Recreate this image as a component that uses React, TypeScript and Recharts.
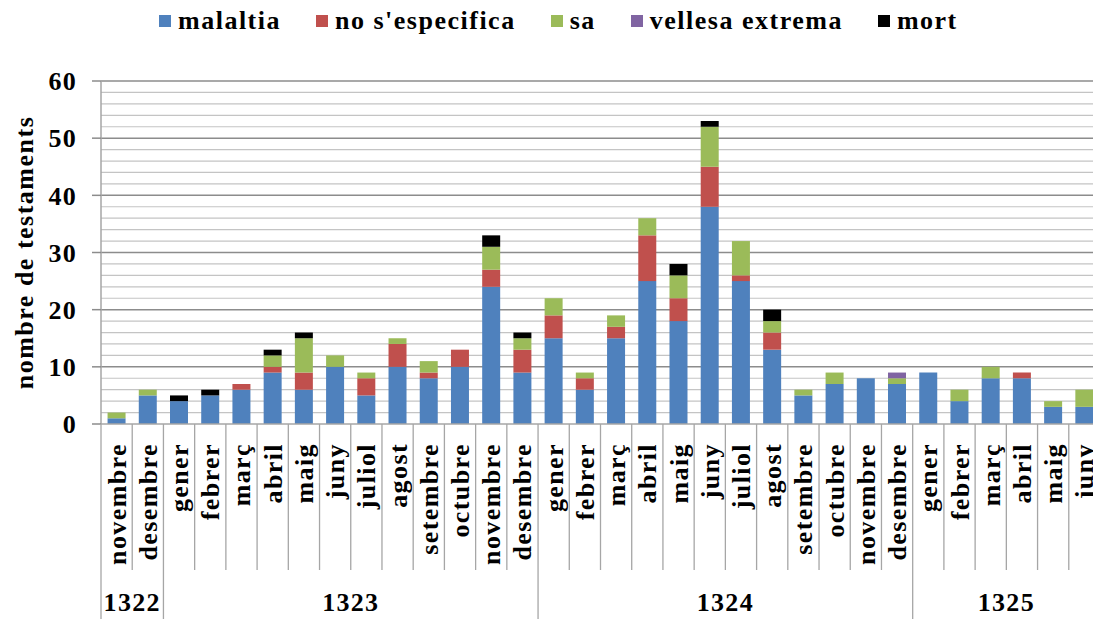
import React from 'react';
import { BarChart, Bar, XAxis, YAxis, CartesianGrid, Legend } from 'recharts';

const years = ['1322', '1323', '1324', '1325'];
const monthsByYear = [
  ['novembre', 'desembre'],
  ['gener', 'febrer', 'març', 'abril', 'maig', 'juny', 'juliol', 'agost', 'setembre', 'octubre', 'novembre', 'desembre'],
  ['gener', 'febrer', 'març', 'abril', 'maig', 'juny', 'juliol', 'agost', 'setembre', 'octubre', 'novembre', 'desembre'],
  ['gener', 'febrer', 'març', 'abril', 'maig', 'juny'],
];

const malaltia = [1, 5, 4, 5, 6, 9, 6, 10, 5, 10, 8, 10, 24, 9, 15, 6, 15, 25, 18, 38, 25, 13, 5, 7, 8, 7, 9, 4, 8, 8, 3, 3];
const noEspecifica = [0, 0, 0, 0, 1, 1, 3, 0, 3, 4, 1, 3, 3, 4, 4, 2, 2, 8, 4, 7, 1, 3, 0, 0, 0, 0, 0, 0, 0, 1, 0, 0];
const sa = [1, 1, 0, 0, 0, 2, 6, 2, 1, 1, 2, 0, 4, 2, 3, 1, 2, 3, 4, 7, 6, 2, 1, 2, 0, 1, 0, 2, 2, 0, 1, 3];
const vellesa = [0, 0, 0, 0, 0, 0, 0, 0, 0, 0, 0, 0, 0, 0, 0, 0, 0, 0, 0, 0, 0, 0, 0, 0, 0, 1, 0, 0, 0, 0, 0, 0];
const mort = [0, 0, 1, 1, 0, 1, 1, 0, 0, 0, 0, 0, 2, 1, 0, 0, 0, 0, 2, 1, 0, 2, 0, 0, 0, 0, 0, 0, 0, 0, 0, 0];

const seriesKeys = ['malaltia', 'noEspecifica', 'sa', 'vellesa', 'mort'];
const seriesNames = ['malaltia', "no s'especifica", 'sa', 'vellesa extrema', 'mort'];
const seriesColors = ['#4F81BD', '#C0504D', '#9BBB59', '#8064A2', '#000000'];
const seriesValues = [malaltia, noEspecifica, sa, vellesa, mort];

const yTicks = [0, 10, 20, 30, 40, 50, 60];
const yMinorGrid = [2, 4, 6, 8, 12, 14, 16, 18, 22, 24, 26, 28, 32, 34, 36, 38, 42, 44, 46, 48, 52, 54, 56, 58];
const yAxisTitle = 'nombre de testaments';

const FONT = '"Liberation Serif", "Times New Roman", Tinos, serif';
const baseText: React.CSSProperties = { fontFamily: FONT, fontWeight: 'bold', fontSize: 26, letterSpacing: 1.3 };

type Row = { [k: string]: any };
const rows: Row[] = [];
years.forEach((yr, yi) => {
  monthsByYear[yi].forEach((m, mi) => {
    const idx = rows.length;
    const r: Row = { key: `${yr}-${m}`, month: m, year: yr, first: mi === 0, span: monthsByYear[yi].length };
    seriesKeys.forEach((k, si) => {
      r[k] = seriesValues[si][idx];
    });
    rows.push(r);
  });
});

const MonthTick = (props: any) => {
  const { x, y, payload, index, width, visibleTicksCount } = props;
  const half =
    payload && typeof payload.offset === 'number' && payload.offset > 0
      ? payload.offset
      : width && visibleTicksCount
      ? width / visibleTicksCount / 2
      : 15.6;
  const row = rows[index] || {};
  const left = x - half;
  const isYearStart = !!row.first;
  const tx = x + 9;
  const ty = y + 19;
  return (
    <g>
      <line x1={left} y1={y} x2={left} y2={isYearStart ? y + 200 : y + 146} stroke="#a6a6a6" strokeWidth={1.3} />
      <text x={tx} y={ty} transform={`rotate(-90 ${tx} ${ty})`} textAnchor="end" fill="#000" style={{ ...baseText, letterSpacing: 1.4 }}>
        {row.month}
      </text>
      {isYearStart && (
        <text x={left + row.span * half} y={y + 187} textAnchor="middle" fill="#000" style={baseText}>
          {row.year}
        </text>
      )}
    </g>
  );
};

const YTitle = (props: any) => {
  const vb = props.viewBox || {};
  const cx = (vb.x ?? 0) + 33;
  const cy = (vb.y ?? 0) + (vb.height ?? 0) / 2;
  return (
    <text x={cx} y={cy} transform={`rotate(-90 ${cx} ${cy})`} textAnchor="middle" fill="#000" style={{ ...baseText, letterSpacing: 1.5 }}>
      {yAxisTitle}
    </text>
  );
};

const LegendContent = (props: any) => {
  const payload = [...(props.payload || [])].sort(
    (a: any, b: any) => seriesNames.indexOf(a.value) - seriesNames.indexOf(b.value)
  );
  return (
    <div style={{ height: 40, display: 'flex', alignItems: 'center', paddingLeft: 159, boxSizing: 'border-box' }}>
      {payload.map((p: any, i: number) => (
        <div key={i} style={{ display: 'flex', alignItems: 'center', marginRight: 35 }}>
          <div style={{ width: 12, height: 12, background: p.color, marginRight: 7 }} />
          <span style={{ ...baseText, letterSpacing: 1.5, color: '#000', lineHeight: '40px', whiteSpace: 'pre' }}>{p.value}</span>
        </div>
      ))}
    </div>
  );
};

export default function App() {
  return (
    <div style={{ position: 'absolute', left: 0, top: 0, width: 1093, height: 619, overflow: 'hidden', background: '#fff' }}>
      <BarChart
        width={1100}
        height={619}
        data={rows}
        margin={{ top: 41, right: 0, bottom: 0, left: 0 }}
        barCategoryGap="21%"
      >
        <CartesianGrid vertical={false} horizontalValues={yMinorGrid} stroke="#c4c4c4" strokeWidth={1.2} />
        <CartesianGrid vertical={false} horizontalValues={yTicks.filter((t) => t > 0)} stroke="#8c8c8c" strokeWidth={1.5} />
        <XAxis
          dataKey="key"
          interval={0}
          height={195}
          tickSize={0}
          tickMargin={0}
          tickLine={false}
          axisLine={{ stroke: '#a6a6a6', strokeWidth: 1.5 }}
          tick={<MonthTick />}
        />
        <YAxis
          width={101}
          domain={[0, 60]}
          ticks={yTicks}
          interval={0}
          tickSize={9}
          tickMargin={15}
          axisLine={{ stroke: '#a6a6a6', strokeWidth: 1.5 }}
          tickLine={{ stroke: '#8c8c8c', strokeWidth: 1.5 }}
          tick={{ fill: '#000', fontFamily: FONT, fontWeight: 'bold', fontSize: 26, letterSpacing: 1.3 } as any}
          label={<YTitle />}
        />
        <Legend verticalAlign="top" wrapperStyle={{ top: 1, left: 0, width: 1100, height: 40 }} content={<LegendContent />} />
        {seriesKeys.map((k, i) => (
          <Bar key={k} dataKey={k} name={seriesNames[i]} stackId="a" fill={seriesColors[i]} isAnimationActive={false} />
        ))}
      </BarChart>
    </div>
  );
}
